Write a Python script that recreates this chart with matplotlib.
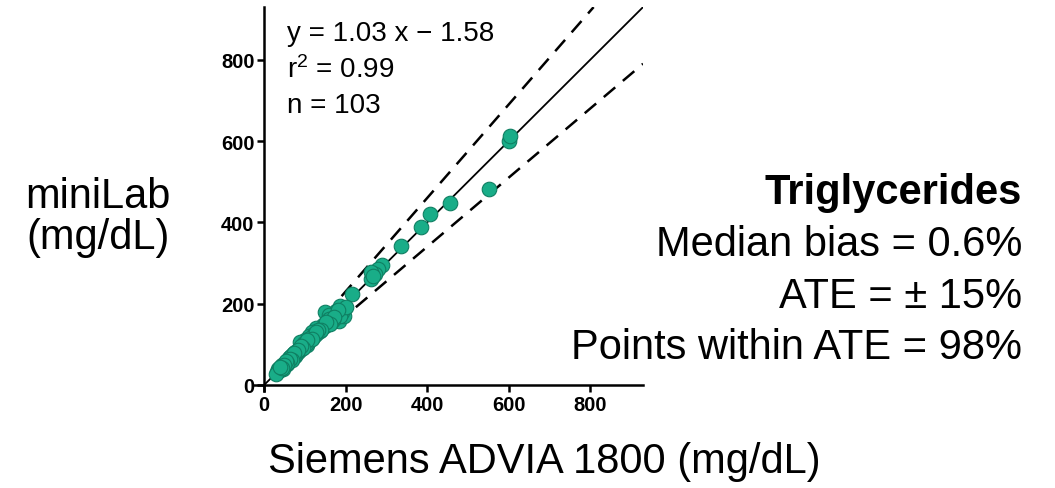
import matplotlib.pyplot as plt

# Triglicéridos: miniLab vs Siemens ADVIA 1800
advia = [600, 603, 552, 456, 407, 386, 336, 288, 280, 273, 263, 261, 266, 216,
         196, 187, 175, 148, 183, 167, 195, 160, 178, 154, 145, 134, 128, 117,
         120, 110, 105, 100, 89, 95, 85, 80, 75, 70, 64, 60, 56, 52, 48, 44, 40,
         35, 31,
         190, 185, 170, 165, 158, 150, 142, 138, 130, 125, 122, 115, 112, 108,
         102, 98, 92, 88, 84, 78, 76, 72, 68, 66, 62, 58, 55, 50, 47, 45, 42,
         38, 36, 33, 30,
         200, 182, 172, 162, 152, 140, 132, 126, 118, 106, 96, 90, 82, 74, 67,
         63, 57, 53, 49, 43, 39]
minilab = [600, 612, 483, 448, 421, 388, 343, 296, 285, 273, 261, 277, 268, 224,
           188, 195, 183, 179, 158, 167, 170, 172, 175, 150, 148, 138, 140, 130,
           118, 120, 97, 110, 105, 95, 88, 80, 82, 75, 68, 65, 60, 55, 52, 48, 42,
           38, 31,
           180, 170, 160, 155, 162, 145, 140, 132, 128, 122, 126, 112, 115, 105,
           100, 102, 90, 85, 82, 76, 72, 70, 66, 72, 60, 58, 52, 48, 45, 40, 45,
           36, 40, 34, 28,
           192, 185, 168, 150, 155, 136, 134, 130, 114, 110, 92, 95, 86, 78, 62,
           64, 54, 58, 50, 41, 44]

ate = 0.15
ate_inicio_sup = 190
ate_inicio_inf = 225
limite = 930

stats_lines = ["y = 1.03 x \u2212 1.58", "r$^2$ = 0.99", "n = 103"]
info_lines = ["Median bias = 0.6%", "ATE = \u00b1 15%", "Points within ATE = 98%"]

plt.rcParams["font.family"] = ["Liberation Sans", "DejaVu Sans"]
plt.rcParams["mathtext.default"] = "regular"

fig = plt.figure(figsize=(10.55, 4.89), dpi=100)
ax = fig.add_axes([0.2408, 0.1984, 0.3687, 0.785])

ax.plot([0, limite], [0, limite], color="black", lw=1.3, zorder=1)
ax.plot([ate_inicio_sup, limite / (1 + ate)], [ate_inicio_sup * (1 + ate), limite],
        color="black", lw=1.8, dashes=(6, 4), zorder=1)
ax.plot([ate_inicio_inf, limite], [ate_inicio_inf * (1 - ate), limite * (1 - ate)],
        color="black", lw=1.8, dashes=(6, 4), zorder=1)

ax.scatter(advia, minilab, s=110, color="#19ad88", edgecolor="#0f7f62",
           linewidth=0.8, zorder=3)

ax.set_xlim(-25, limite)
ax.set_ylim(-15, limite)
ax.spines["left"].set_position(("data", 0))
ax.spines["bottom"].set_position(("data", 0))
ax.spines["top"].set_visible(False)
ax.spines["right"].set_visible(False)
for s in ["left", "bottom"]:
    ax.spines[s].set_linewidth(1.8)
ax.set_xticks([0, 200, 400, 600, 800])
ax.set_yticks([0, 200, 400, 600, 800])
ax.tick_params(direction="out", length=5, width=1.8, labelsize=14.5, pad=2)
for lab in ax.get_xticklabels() + ax.get_yticklabels():
    lab.set_fontweight("bold")

for i, txt in enumerate(stats_lines):
    ax.text(55, 866 - i * 88, txt, fontsize=20, va="center", ha="left")

fig.text(0.093, 0.555, "miniLab\n(mg/dL)", fontsize=30, ha="center", va="center",
         linespacing=1.05)
fig.text(0.516, 0.055, "Siemens ADVIA 1800 (mg/dL)", fontsize=30, ha="center",
         va="center")

fig.text(0.969, 0.605, "Triglycerides", fontsize=30, fontweight="bold",
         ha="right", va="center")
for i, txt in enumerate(info_lines):
    fig.text(0.969, 0.499 - i * 0.1055, txt, fontsize=30, ha="right", va="center")

fig.savefig("out.png", dpi=100)
